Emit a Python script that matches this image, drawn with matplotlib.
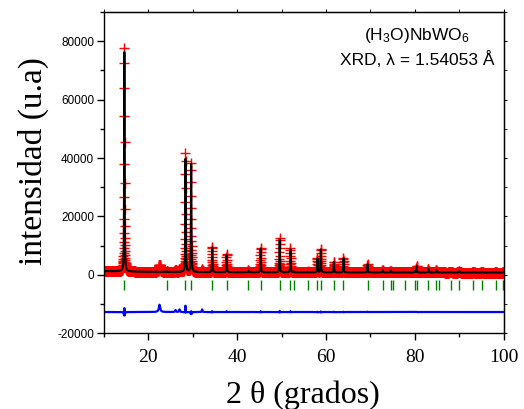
import numpy as np
import matplotlib
matplotlib.use('Agg')
import matplotlib.pyplot as plt
from matplotlib.ticker import MultipleLocator

plt.rcParams['axes.unicode_minus'] = False
plt.rcParams['mathtext.fontset'] = 'custom'
plt.rcParams['mathtext.rm'] = 'Liberation Sans'
plt.rcParams['mathtext.it'] = 'Liberation Sans:italic'

# Bragg reflections (green ticks), 2theta in degrees
bragg_pos = [14.58, 24.14, 28.35, 29.63, 34.37, 37.61, 42.50, 45.28, 49.57, 51.98,
             52.73, 55.89, 58.07, 58.83, 61.76, 63.94, 69.36, 72.74, 74.55, 75.15,
             77.86, 79.97, 80.42, 83.05, 84.86, 85.39, 88.10, 89.98, 93.21, 95.10,
             98.26, 99.95]
# peak heights above background, calculated (black) and observed (red)
calc_height = [75700, 200, 39000, 37300, 8500, 5900, 700, 8200, 11400, 7950,
               300, 300, 4800, 7900, 3600, 4800, 2800, 900, 600, 200,
               200, 500, 2200, 1300, 850, 200, 200, 500, 300, 300,
               200, 300]
obs_height = [77100, 200, 41200, 37600, 8800, 6200, 700, 8500, 11800, 8250,
              300, 300, 4900, 8100, 3700, 4900, 2900, 900, 600, 200,
              200, 500, 2250, 1300, 850, 200, 200, 500, 300, 300,
              200, 300]
peak_fwhm = 0.11
obs_fwhm = 0.105

# small features present only in the observed pattern
extra_pos = [22.5, 26.1, 27.0, 32.1]
extra_height = [2500, 700, 900, 900]
extra_fwhm = [0.35, 0.2, 0.2, 0.15]

# background read at a few angles
bg_2theta = [10, 20, 40, 70, 100]
bg_counts = [1300, 1050, 900, 850, 800]

step = 0.02
diff_offset = -12700
bragg_y = -3400


def lorentz(x, x0, h, w):
    g = w / 2.0
    return h / (1.0 + ((x - x0) / g) ** 2)


tt = np.arange(10.005, 100.0, step)
bg = np.interp(tt, bg_2theta, bg_counts)

y_calc = bg.copy()
y_obs = bg.copy()
for p, hc, ho in zip(bragg_pos, calc_height, obs_height):
    y_calc += lorentz(tt, p, hc, peak_fwhm)
    y_obs += lorentz(tt, p, ho, obs_fwhm)
for p, h, w in zip(extra_pos, extra_height, extra_fwhm):
    y_obs += lorentz(tt, p, h, w)

y_diff = y_obs - y_calc + diff_offset

fig = plt.figure(figsize=(5.24, 4.09), dpi=100)
ax = fig.add_axes([0.1985, 0.185, 0.7625, 0.7857])

ax.plot(tt, y_obs, '+', color='red', ms=6.5, mew=1.0, linestyle='none')
ax.plot(tt, y_calc, '-', color='black', lw=1.5)
ax.plot(bragg_pos, [bragg_y] * len(bragg_pos), '|', color='#008000', ms=7, mew=1.0)
ax.plot(tt, y_diff, '-', color='blue', lw=1.6)

ax.set_xlim(10, 100)
ax.set_ylim(-20000, 90000)
ax.xaxis.set_major_locator(MultipleLocator(20))
ax.xaxis.set_minor_locator(MultipleLocator(10))
ax.yaxis.set_major_locator(MultipleLocator(20000))
ax.yaxis.set_minor_locator(MultipleLocator(10000))
ax.set_yticks([-20000, 0, 20000, 40000, 60000, 80000])

ax.tick_params(axis='both', which='major', direction='out', length=5, width=1)
ax.tick_params(axis='both', which='minor', direction='out', length=3, width=1)
ax.tick_params(axis='x', pad=6.5)
ax.tick_params(axis='y', pad=2)
for sp in ax.spines.values():
    sp.set_linewidth(1.0)

for lab in ax.get_yticklabels():
    lab.set_fontfamily('Liberation Sans')
    lab.set_fontsize(8.5)
for lab in ax.get_xticklabels():
    lab.set_fontfamily('Liberation Serif')
    lab.set_fontsize(14)

# tiny ticks on top and right
top = ax.secondary_xaxis('top')
top.xaxis.set_major_locator(MultipleLocator(20))
top.xaxis.set_minor_locator(MultipleLocator(10))
top.tick_params(which='both', direction='out', length=2, labeltop=False)
right = ax.secondary_yaxis('right')
right.yaxis.set_major_locator(MultipleLocator(20000))
right.yaxis.set_minor_locator(MultipleLocator(10000))
right.tick_params(which='both', direction='out', length=2, labelright=False)

ax.set_xlabel('2 θ (grados)', fontfamily='Liberation Serif', fontsize=23)
ax.set_ylabel('intensidad (u.a)', fontfamily='Liberation Serif', fontsize=24)
ax.xaxis.set_label_coords(0.497, -0.148)
ax.yaxis.set_label_coords(-0.138, 0.537)

ax.text(0.7835, 0.913, '(H$_3$O)NbWO$_6$', transform=ax.transAxes,
        ha='center', va='baseline', fontfamily='Liberation Sans', fontsize=12.5)
ax.text(0.7835, 0.835, 'XRD, λ = 1.54053 Å', transform=ax.transAxes,
        ha='center', va='baseline', fontfamily='Liberation Sans', fontsize=12.5)

fig.savefig('out.png', dpi=100)
